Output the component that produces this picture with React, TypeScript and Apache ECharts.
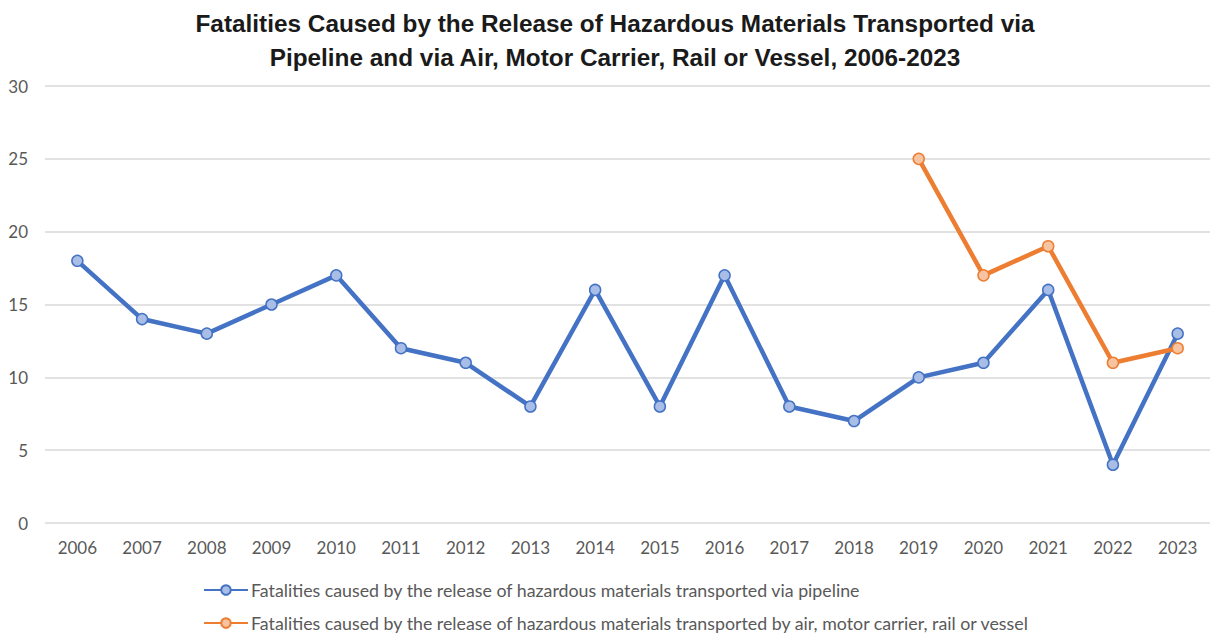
import React, { useEffect, useRef } from "react";
import * as echarts from "echarts";

const years = ["2006","2007","2008","2009","2010","2011","2012","2013","2014","2015","2016","2017","2018","2019","2020","2021","2022","2023"];
const pipeline = [18,14,13,15,17,12,11,8,16,8,17,8,7,10,11,16,4,13];
const otherModes = [null,null,null,null,null,null,null,null,null,null,null,null,null,25,17,19,11,12];
const pipelineName = "Fatalities caused by the release of hazardous materials transported via pipeline";
const otherName = "Fatalities caused by the release of hazardous materials transported by air, motor carrier, rail or vessel";
const titleLines = [
  "Fatalities Caused by the Release of Hazardous Materials Transported via",
  "Pipeline and via Air, Motor Carrier, Rail or Vessel, 2006-2023",
];

export default function App() {
  const ref = useRef<HTMLDivElement>(null);
  useEffect(() => {
    document.body.style.margin = "0";
    const chart = echarts.init(ref.current!, null, { renderer: "svg" });
    const font = "Lato, 'Open Sans', sans-serif";
    const legendBase = {
      orient: "horizontal",
      left: 198,
      itemWidth: 44,
      itemHeight: 12,
      textStyle: { fontFamily: font, fontSize: 17.8, color: "#595959", padding: [0, 0, 0, -2] },
    };
    chart.setOption({
      animation: false,
      backgroundColor: "#ffffff",
      graphic: titleLines.map((t, i) => ({
        type: "text",
        x: 615,
        y: 24 + i * 34,
        scaleX: 0.84,
        scaleY: 0.82,
        style: {
          text: t,
          textAlign: "center",
          textVerticalAlign: "middle",
          fontFamily: "'Liberation Sans', Arial, sans-serif",
          fontWeight: "bold",
          fontSize: 29,
          fill: "#1a1a1a",
        },
      })),
      legend: [
        { ...legendBase, top: 576, data: [pipelineName] },
        { ...legendBase, top: 609, data: [otherName] },
      ],
      grid: { left: 45, right: -3, top: 86, bottom: 111, containLabel: false },
      xAxis: {
        type: "category",
        data: years,
        boundaryGap: true,
        axisLine: { show: false },
        axisTick: { show: false },
        axisLabel: { fontFamily: font, fontSize: 17, color: "#595959", margin: 16 },
      },
      yAxis: {
        type: "value",
        min: 0,
        max: 30,
        interval: 5,
        axisLine: { show: false },
        axisTick: { show: false },
        axisLabel: { fontFamily: font, fontSize: 17, color: "#595959", margin: 17 },
        splitLine: { lineStyle: { color: "#d9d9d9", width: 1.5 } },
      },
      series: [
        {
          name: pipelineName,
          type: "line",
          data: pipeline,
          symbol: "circle",
          symbolSize: 11,
          lineStyle: { color: "#4472C4", width: 4.5 },
          itemStyle: { color: "#A9BEE6", borderColor: "#4472C4", borderWidth: 1.5 },
        },
        {
          name: otherName,
          type: "line",
          data: otherModes,
          symbol: "circle",
          symbolSize: 11,
          lineStyle: { color: "#ED7D31", width: 4.5 },
          itemStyle: { color: "#F7C4A2", borderColor: "#ED7D31", borderWidth: 1.5 },
        },
      ],
    });
    return () => chart.dispose();
  }, []);
  return <div ref={ref} style={{ position: "absolute", left: 0, top: 0, width: 1210, height: 634 }} />;
}
